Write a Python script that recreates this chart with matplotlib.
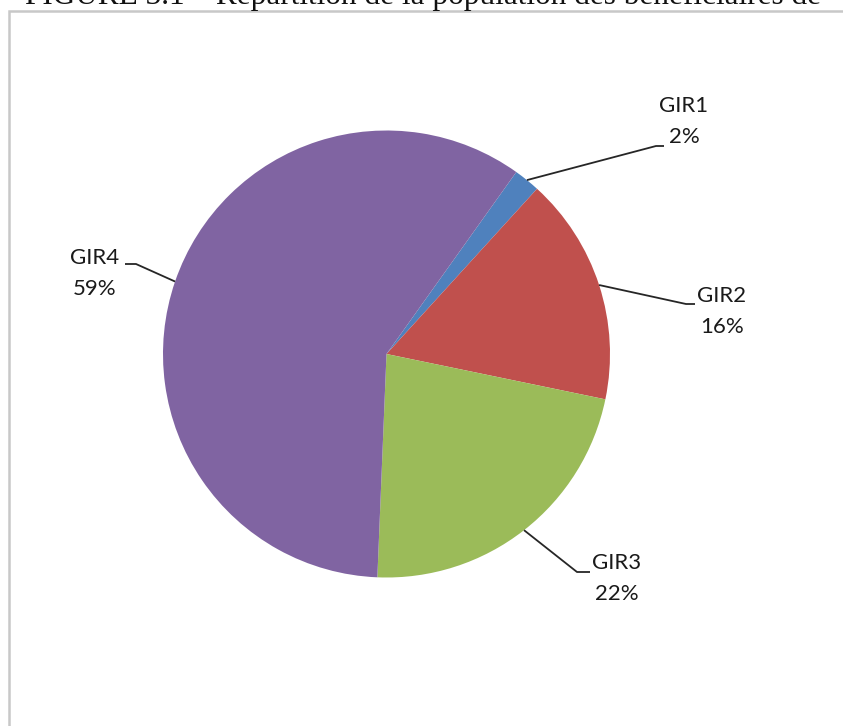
import numpy as np
import matplotlib
matplotlib.use("Agg")
import matplotlib.pyplot as plt
from matplotlib.patches import Rectangle

# ---- data ----
categories = ["GIR1", "GIR2", "GIR3", "GIR4"]
values = [1.9, 16.49, 22.4, 59.21]
colors = ["#4F81BD", "#C0504D", "#9BBB59", "#8064A2"]
title = "FIGURE 3.1 – Répartition de la population des bénéficiaires de"

W, H = 843, 726
fig = plt.figure(figsize=(W / 100, H / 100), dpi=100)
fig.patch.set_facecolor("white")

# partially visible caption at the very top
fig.text(25 / W, 1 - 4 / H, title, family="Liberation Serif", fontsize=22.5,
         ha="left", va="baseline", color="#111111")

# frame around the chart area
fig.patches.append(Rectangle((9 / W, -0.1), 1.2, 1 - 11 / H + 0.1,
                             transform=fig.transFigure, fill=False,
                             edgecolor="#c8c8c8", lw=1.8))

ax = fig.add_axes([0, 0, 1, 1])
cx, cy, r = 386.5, H - 354, 223.5
start = 35.5  # clockwise from 12 o'clock
wedges, _ = ax.pie(values, colors=colors, startangle=90 - start, counterclock=False,
                   center=(cx, cy), radius=r, wedgeprops=dict(linewidth=0))
ax.set_xlim(0, W)
ax.set_ylim(0, H)
ax.set_aspect("equal")
ax.axis("off")

# label layout: elbow point, end point, text centre (pixels, y from top)
layout = {
    "GIR1": dict(elbow=(656, 146), end=(664, 146), text=(684, 106)),
    "GIR2": dict(elbow=(686, 304), end=(695, 304), text=(722, 296)),
    "GIR3": dict(elbow=(577, 572), end=(590, 572), text=(617, 563)),
    "GIR4": dict(elbow=(136, 264), end=(125, 264), text=(95, 258)),
}

font = dict(family=["Lato", "DejaVu Sans"], fontsize=16, color="#1a1a1a")
total = sum(values)
for w, cat, v in zip(wedges, categories, values):
    mid = np.deg2rad((w.theta1 + w.theta2) / 2)
    ex, ey = cx + r * np.cos(mid), cy + r * np.sin(mid)
    L = layout[cat]
    (bx, by), (fx, fy), (tx, ty) = L["elbow"], L["end"], L["text"]
    ax.plot([ex, bx, fx], [ey, H - by, H - fy], color="#262626", lw=1.3,
            solid_capstyle="butt", clip_on=False)
    ax.text(tx, H - ty, cat, ha="center", va="center", **font)
    ax.text(tx, H - ty - 31, f"{round(v / total * 100):d}%", ha="center",
            va="center", **font)

fig.savefig("out.png", dpi=100)
